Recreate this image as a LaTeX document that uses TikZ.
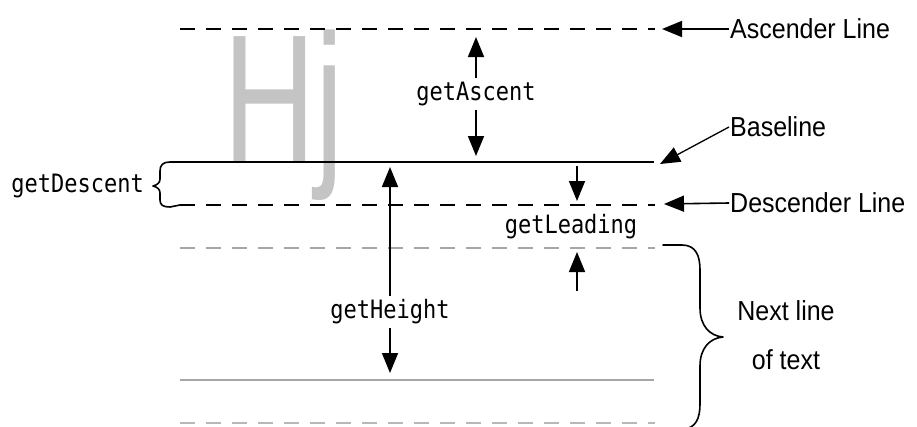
\documentclass[tikz,border=0pt]{standalone}
\usepackage{fontspec}
\usetikzlibrary{arrows.meta}
\newfontfamily\monof{DejaVu Sans Mono}
\newfontfamily\labf{Liberation Sans}
\begin{document}
\begin{tikzpicture}[x=1pt,y=-1pt,
  mono/.style={font=\monof\fontsize{22}{24}\selectfont, inner sep=3pt, yscale=1.15},
  lab/.style={font=\labf\fontsize{25}{44}\selectfont, inner sep=1pt, anchor=west, yscale=1.1},
  arr/.style={-{Triangle[length=20pt,width=16pt]}, line width=1.6pt},
  blackdash/.style={line width=2pt, dash pattern=on 15pt off 11pt},
  greydash/.style={line width=1.5pt, color=black!35, dash pattern=on 15pt off 11pt},
  greyline/.style={line width=1.5pt, color=black!35},
  bracestyle/.style={line width=1.6pt, line cap=round, line join=round}]
\useasboundingbox (0,0) rectangle (917,426);
\fill[white] (0,0) rectangle (917,426);

% big letters
\node[anchor=base west, inner sep=0pt, xscale=0.7, text=black!23,
      font=\labf\fontsize{183}{183}\selectfont] (hj) at (223,162) {Hj};

% lines
\coordinate (ascL) at (180,29);  \coordinate (ascR) at (655,29);
\coordinate (baseL) at (178,162); \coordinate (baseR) at (654,162);
\coordinate (descL) at (180,205); \coordinate (descR) at (655,205);
\coordinate (g1L) at (180,248);  \coordinate (g1R) at (655,248);
\coordinate (g2L) at (180,380);  \coordinate (g2R) at (654,380);
\coordinate (g3L) at (180,423);  \coordinate (g3R) at (655,423);
\draw[blackdash] (ascL) -- (ascR);
\draw[line width=2pt] (baseL) -- (baseR);
\draw[blackdash] (descL) -- (descR);
\draw[greydash] (g1L) -- (g1R);
\draw[greyline] (g2L) -- (g2R);
\draw[greydash, color=black!28] (g3L) -- (g3R);

% getAscent
\node[mono] (ga) at (476,94) {getAscent};
\coordinate (gaTop) at (476,37);
\coordinate (gaBot) at (476,156);
\draw[arr] (ga.north) -- (gaTop);
\draw[arr] (ga.south) -- (gaBot);

% getHeight
\node[mono] (gh) at (390,312) {getHeight};
\coordinate (ghTop) at (390,167);
\coordinate (ghBot) at (390,373);
\draw[arr] (gh.north) -- (ghTop);
\draw[arr] (gh.south) -- (ghBot);

% getLeading
\node[mono] (gl) at (571,227) {getLeading};
\coordinate (glA) at (577,166); \coordinate (glAt) at (577,201);
\coordinate (glB) at (577,291); \coordinate (glBt) at (577,252);
\draw[arr] (glA) -- (glAt);
\draw[arr] (glB) -- (glBt);

% getDescent with brace
\node[mono, anchor=east] (gd) at (147,186) {getDescent};
\draw[bracestyle] (baseL) -- (170,162) .. controls (163,162) and (160,165) .. (160,171)
  -- (160,179) .. controls (160,183) and (157,185) .. (153,186)
  .. controls (157,187) and (160,189) .. (160,193)
  -- (160,200) .. controls (160,205) and (163,207) .. (170,207) -- (descL);

% right labels
\node[lab] (asc) at (729,29) {Ascender Line};
\node[lab] (base) at (729,127) {Baseline};
\node[lab] (desc) at (729,203) {Descender Line};
\coordinate (ascTip) at (662,29);
\coordinate (baseTip) at (660,164);
\coordinate (descTip) at (664,204);
\draw[arr] (asc.west) -- (ascTip);
\draw[arr, line width=1.3pt] (base.west) -- (baseTip);
\draw[arr] (desc.west) -- (descTip);

% next line brace
\draw[bracestyle] (663,245) -- (682,245) .. controls (696,245) and (700,256) .. (700,270)
  -- (700,308) .. controls (700,326) and (710,336) .. (723,337)
  .. controls (710,338) and (700,348) .. (700,366)
  -- (700,404) .. controls (700,418) and (696,429) .. (682,429);
\node[font=\labf\fontsize{25}{44}\selectfont, align=center, inner sep=1pt, yscale=1.1] (next) at (786,335) {Next line\\of text};
\end{tikzpicture}
\end{document}
